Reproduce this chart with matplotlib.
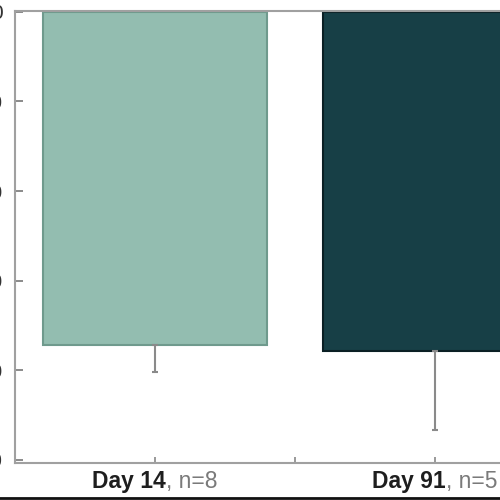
import matplotlib
matplotlib.use('Agg')
import matplotlib.pyplot as plt
from matplotlib.offsetbox import TextArea, HPacker, AnnotationBbox
from matplotlib.lines import Line2D

plt.rcParams['font.family'] = ['Liberation Sans', 'DejaVu Sans']

# data
groups = ['Day 14', 'Day 91']
n_labels = [', n=8', ', n=5']
means = [-74.4, -75.6]
err_low = [6.0, 17.8]
bar_colors = ['#93bdb0', '#173f46']
edge_colors = ['#6f9a8d', '#0a1f24']
yticks = [0, -20, -40, -60, -80, -100]

fig = plt.figure(figsize=(5, 5), dpi=100)
# the picture is a crop: the axes run past the right edge
ax = fig.add_axes([0.03, 0.074, 1.12, 0.904])

x = list(range(len(groups)))
ax.bar(x, means, width=0.8, color=bar_colors, edgecolor=edge_colors, linewidth=1.5, zorder=2)
ax.errorbar(x, means, yerr=[err_low, [0] * len(err_low)], fmt='none',
            ecolor='#8a8a8a', elinewidth=1.5, capsize=2.5, capthick=1.5, zorder=3)

ax.set_xlim(-0.5, 1.5)
ax.set_ylim(-100.7, 0.2)
ax.set_yticks(yticks)
ax.set_yticklabels([str(v) for v in yticks])
ax.set_xticks(x)
ax.set_xticklabels([])
ax.set_xticks([0.5], minor=True)

for s in ax.spines.values():
    s.set_color('#a0a0a0')
    s.set_linewidth(1.5)

ax.tick_params(axis='y', direction='in', length=6, width=1.2, color='#777777',
               labelsize=15, labelcolor='#333333', pad=9)
ax.tick_params(axis='x', which='both', direction='in', length=4, width=1.2, color='#888888')

# two-tone tick labels: bold group name, grey sample size
for xi, g, nl in zip(x, groups, n_labels):
    box = HPacker(children=[
        TextArea(g, textprops=dict(weight='bold', color='#1e1e1e', size=16.5)),
        TextArea(nl, textprops=dict(color='#7a7a7a', size=16.5)),
    ], align='baseline', pad=0, sep=0)
    ab = AnnotationBbox(box, (xi, 0), xycoords=('data', 'axes fraction'),
                        box_alignment=(0.5, 1), xybox=(0, -5), boxcoords='offset points',
                        frameon=False, annotation_clip=False)
    ax.add_artist(ab)

# dark rule along the bottom edge of the crop
fig.add_artist(Line2D([0, 1], [0.004, 0.004], transform=fig.transFigure, color='#111111', linewidth=2))

fig.savefig('out.png', dpi=100)
